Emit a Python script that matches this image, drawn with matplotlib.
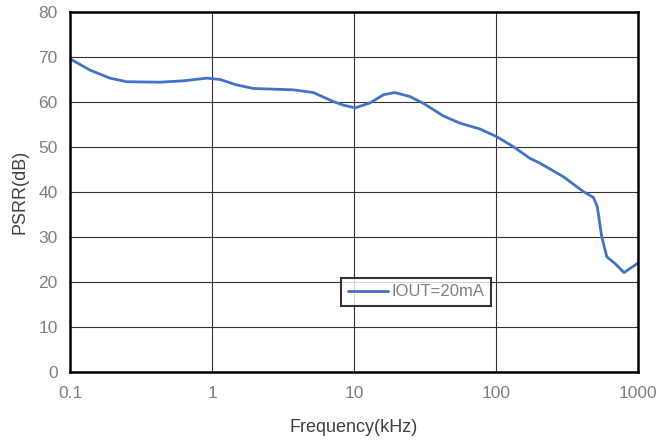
import matplotlib
matplotlib.use("Agg")
import matplotlib.pyplot as plt
from matplotlib.ticker import FixedLocator, FixedFormatter, NullLocator

plt.rcParams['font.family'] = ['Liberation Sans', 'DejaVu Sans']

freq_khz = [0.1, 0.138, 0.191, 0.251, 0.43, 0.628, 0.918, 1.14, 1.49, 1.96, 3.74,
            5.17, 7.15, 8.41, 10.2, 13.0, 16.1, 19.4, 24.8, 30.8, 42.6, 55.7, 77.1,
            101.0, 132.0, 173.0, 204.0, 298.0, 412.0, 485.0, 517.0, 555.0, 603.0,
            689.0, 797.0, 1000.0]
psrr_db = [69.6, 67.1, 65.3, 64.5, 64.4, 64.7, 65.3, 65.0, 63.8, 63.0, 62.7,
           62.1, 60.1, 59.3, 58.7, 59.8, 61.6, 62.1, 61.2, 59.7, 56.9, 55.3, 54.0,
           52.3, 50.1, 47.5, 46.4, 43.4, 40.1, 38.8, 36.7, 30.1, 25.6,
           24.1, 22.1, 24.2]
series_label = "IOUT=20mA"
x_ticks = [0.1, 1, 10, 100, 1000]
x_tick_labels = ["0.1", "1", "10", "100", "1000"]
y_ticks = [0, 10, 20, 30, 40, 50, 60, 70, 80]

fig = plt.figure(figsize=(6.58, 4.41), dpi=100)
ax = fig.add_axes([0.1064, 0.1565, 0.8632, 0.8163])

ax.plot(freq_khz, psrr_db, color="#4472C4", lw=2.0, label=series_label,
        solid_capstyle="round", solid_joinstyle="round")
ax.set_xscale("log")
ax.set_xlim(0.1, 1000)
ax.set_ylim(0, 80)
ax.xaxis.set_major_locator(FixedLocator(x_ticks))
ax.xaxis.set_major_formatter(FixedFormatter(x_tick_labels))
ax.xaxis.set_minor_locator(NullLocator())
ax.set_yticks(y_ticks)

ax.grid(True, color="#333333", lw=0.8)
ax.set_axisbelow(True)
for s in ax.spines.values():
    s.set_linewidth(1.8)
    s.set_color("black")

ax.tick_params(axis="both", length=0, labelsize=12.5, labelcolor="#7f7f7f")
ax.tick_params(axis="x", pad=10)
ax.tick_params(axis="y", pad=9)

ax.set_xlabel("Frequency(kHz)", fontsize=13, color="#404040", labelpad=13)
ax.set_ylabel("PSRR(dB)", fontsize=13, color="#404040", labelpad=7)

leg = ax.legend(loc="lower left", bbox_to_anchor=(0.477, 0.183), frameon=True,
                fancybox=False, edgecolor="black", fontsize=12, handlelength=2.4,
                borderpad=0.4, handletextpad=0.25, borderaxespad=0)
leg.get_frame().set_linewidth(1.5)
for t in leg.get_texts():
    t.set_color("#7f7f7f")

fig.savefig("out.png", dpi=100)
